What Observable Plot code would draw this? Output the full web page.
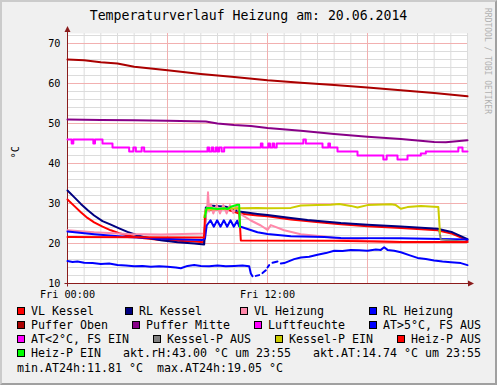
<!DOCTYPE html>
<html>
<head>
<meta charset="utf-8">
<script src="https://cdn.jsdelivr.net/npm/d3@7"></script>
<script src="https://cdn.jsdelivr.net/npm/@observablehq/plot@0.6"></script>
<style>
html, body { margin: 0; padding: 0; background: #f0f0f0; }
#card { position: relative; width: 497px; height: 385px; background: #f0f0f0; overflow: hidden;
  font-family: "DejaVu Sans Mono", monospace; color: #000; }
#bevel { position: absolute; left: 0; top: 0; width: 497px; height: 385px; box-sizing: border-box;
  border-style: solid; border-width: 2px; border-color: #cbcbcb #a0a0a0 #a0a0a0 #cbcbcb; pointer-events: none; }
#title { position: absolute; left: 0; top: 8.4px; width: 497px; text-align: center; font-size: 13.2px; line-height: 16px; white-space: pre; }
#mark { position: absolute; left: 482px; top: 8px; writing-mode: vertical-rl; font-size: 8px; line-height: 10px; color: #b0b0b0; white-space: pre; }
#chart { position: absolute; left: 0; top: 0; }
#legend { position: absolute; left: 17px; top: 304.2px; width: 464px; font-size: 11.63px; line-height: 14.1px; }
.row { display: flex; justify-content: space-between; height: 14.1px; }
.row.left { justify-content: flex-start; }
.item { white-space: pre; }
.box { display: inline-block; width: 8px; height: 8px; box-sizing: border-box; border: 1px solid #000; margin-right: 6px; vertical-align: baseline; }
</style>
</head>
<body>
<div id="card">
  <div id="chart"></div>
  <div id="title"></div>
  <div id="mark"></div>
  <div id="legend"></div>
  <div id="bevel"></div>
</div>
<script>
// ---------- texts ----------
const title = "Temperaturverlauf Heizung am: 20.06.2014";
const watermark = "RRDTOOL / TOBI OETIKER";
const unitLabel = "°C";
const xDomain = [0, 24];           // hours of the day
const yDomain = [10, 72.5];
const yTicks = [10, 20, 30, 40, 50, 60, 70];
const xTickValues = [0, 12];
const xTickLabels = ["Fri 00:00", "Fri 12:00"];

const legendLabels = ["VL Kessel", "RL Kessel", "VL Heizung", "RL Heizung",
  "Puffer Oben", "Puffer Mitte", "Luftfeuchte", "AT>5°C, FS AUS",
  "AT<2°C, FS EIN", "Kessel-P AUS", "Kessel-P EIN", "Heiz-P AUS", "Heiz-P EIN"];
const legendColors = ["#ff0000", "#000080", "#ff88aa", "#0000ff",
  "#aa0000", "#880088", "#ff00ff", "#0000ff",
  "#ff00ff", "#808080", "#cccc00", "#ff0000", "#00ff00"];
const infoTexts = ["akt.rH:43.00 °C um 23:55", "akt.AT:14.74 °C um 23:55",
  "min.AT24h:11.81 °C", "max.AT24h:19.05 °C"];

// ---------- series: [hour, °C] ----------
const vlKessel = [[0,31.0],[0.4,29.4],[0.8,27.8],[1.2,26.4],[1.6,25.3],[2.1,24.2],[2.6,23.3],[3.1,22.6],[3.6,22.0],
  [4.6,21.3],[5.6,20.9],[6.6,20.7],[7.6,20.5],[8.2,20.3],[8.3,28.4],[9.5,28.6],[10.3,27.5],[11.4,27.0],[12,26.8],
  [13.4,26.0],[15.4,25.2],[16.4,24.8],[18,24.3],[20,23.9],[22.2,23.3],[23.1,22.4],[24,20.8]];
const rlKessel = [[0,33.25],[0.4,31.6],[0.8,29.9],[1.2,28.4],[1.6,27.0],[2.1,25.6],[2.6,24.7],[3.1,23.8],[3.6,22.9],
  [4.1,22.2],[4.6,21.6],[5.6,20.8],[6.6,20.3],[7.6,20.0],[8.2,19.75],[8.3,29.0],[8.5,29.5],[9.5,29.2],[10.3,28.0],
  [11.4,27.4],[12,27.1],[13.4,26.4],[14.4,25.9],[15.4,25.5],[16.4,25.1],[18,24.7],[20,24.25],[22.2,23.7],[23.1,22.8],[24,21.1]];
const vlHeizung = [[0,23.3],[1.6,22.8],[3.6,22.4],[5.6,22.25],[8.2,22.5],[8.3,27.0],[8.38,28.5],[8.43,32.8],[8.5,28.0],
  [8.6,29.8],[8.75,27.5],[8.95,29.6],[9.15,27.5],[9.35,29.6],[9.55,27.5],[9.75,29.6],[9.95,27.6],[10.15,29.6],[10.3,27.6],
  [11,25.75],[11.6,24.5],[12.0,23.4],[12.2,24.6],[13,23.3],[14,22.3],[15.4,21.75],[16.4,21.2],[18,20.7],[20,20.4],[24,20.4]];
const rlHeizung = [[0,23.0],[1.6,22.3],[3.6,21.6],[5.6,21.2],[8.1,20.9],[8.25,21.2],[8.35,24.5],[8.58,25.8],[8.78,24.2],
  [8.98,25.8],[9.18,24.2],[9.38,25.8],[9.58,24.2],[9.78,25.8],[9.98,24.2],[10.18,25.7],[10.3,24.3],[11.4,22.8],[12,22.4],
  [13.4,21.8],[15.4,21.6],[16.4,21.4],[20,21.3],[24,21.0]];
const pufferOben = [[0,66.0],[1,65.8],[2,65.3],[3,65.0],[4,64.2],[6,63.3],[8,62.4],[10,61.6],[12,60.8],[14,60.2],
  [16,59.6],[18,59.0],[20,58.3],[22,57.6],[24,56.8]];
const pufferMitte = [[0,51.0],[2,50.9],[4,50.8],[6,50.7],[8.3,50.5],[9,50.0],[10,49.6],[11,49.4],[12,48.9],[14,48.2],
  [16,47.4],[18,46.7],[20,46.1],[22,45.4],[22.7,45.3],[24,45.8]];
const luftfeuchte = [[0,46],[0.25,45],[0.35,46],[1.55,45],[1.65,46],[2.1,45],[2.7,44],[3.7,43],[3.95,44],[4.1,43],
  [4.45,44],[4.6,43],[8.4,44],[8.5,43],[8.65,44],[8.75,43],[8.9,44],[9.0,43],[9.1,44],[9.25,43],[9.4,44],[11.6,45],
  [11.7,44],[12.05,45],[12.15,44],[12.3,45],[12.4,44],[12.55,45],[14.15,46],[14.3,45],[15.3,44],[15.65,45],[15.75,44],
  [16.2,43],[17.4,42],[18.95,41],[19.15,42],[19.8,41],[20.4,42],[21.2,42.5],[21.5,43],[23.45,44],[23.7,43],[24,43]];
const atHigh = [[0,15.6],[0.3,15.4],[0.6,15.5],[1,15.2],[1.5,15.1],[2,14.9],[2.5,15.0],[3,14.6],[3.5,14.5],[4,14.3],
  [4.5,14.4],[5,14.2],[5.5,14.3],[6,14.2],[6.5,14.0],[6.8,13.8],[7.2,14.4],[7.6,14.6],[8,14.4],[8.5,14.3],[9,14.5],
  [9.5,14.3],[10,14.4],[10.5,14.5],[10.9,14.3],[11.0,12.5],[11.1,11.8],[11.2,NaN],[11.3,11.9],[11.5,12.1],[11.6,NaN],
  [11.7,12.6],[11.9,13.3],[11.95,NaN],[12.0,14.0],[12.1,14.6],[12.2,NaN],[12.3,15.2],[12.6,15.5],[12.7,NaN],[12.8,15.0],
  [13.0,15.1],[13.3,15.6],[13.6,16.1],[14,16.5],[14.5,16.7],[15,17.2],[15.5,17.6],[16,18.2],[16.5,18.1],[17,18.4],
  [17.5,18.3],[18,18.2],[18.5,18.5],[18.8,18.4],[19.0,19.05],[19.2,18.4],[19.6,18.2],[20,17.8],[20.5,17.1],[21,16.4],
  [21.5,16.1],[22,15.75],[22.5,15.5],[23,15.3],[23.6,15.1],[24,14.6]];
const atLow = [];
const kesselPAus = [[22.3,23.3],[22.4,21.0],[24,20.4]];
const kesselPEin = [[8.2,26.5],[8.3,28.5],[9,28.6],[10.3,28.8],[11.4,28.9],[12,28.8],[13.4,28.9],[14,29.5],[15,29.6],
  [15.8,29.7],[16.3,29.9],[17,29.4],[17.4,29.0],[18,29.6],[19.4,29.8],[19.7,29.6],[20,28.7],[20.4,29.1],[21.2,29.4],
  [22.25,29.1],[22.35,22.5]];
const heizPAus = [[0,21.6],[8.2,21.5],[8.25,27.0],[8.3,NaN],[10.3,28.0],[10.4,20.75],[16,20.7],[20,20.4],[24,20.4]];
const heizPEin = [[8.25,26.6],[8.35,28.9],[8.6,28.9],[9.0,28.6],[9.4,28.8],[9.6,28.6],[9.8,29.2],[10.2,29.7],[10.3,29.7],[10.35,24.1]];

const seriesData = [vlKessel, rlKessel, vlHeizung, rlHeizung, pufferOben, pufferMitte, luftfeuchte,
  atHigh, atLow, kesselPAus, kesselPEin, heizPAus, heizPEin];
const stepSeries = [luftfeuchte];

// ---------- grid ----------
const minorGrid = "#dcdcdc", majorGrid = "#f2b0b0", axisColor = "#8b1c1c";
const majorX = d3.range(6, 24, 6);
const minorX = d3.range(1, 25).filter(h => h % 6 !== 0 || h === 24);
const majorY = yTicks.filter(v => v > yDomain[0]);
const minorY = d3.range(12, yDomain[1], 2).filter(v => v % 10 !== 0);

function axesMark(index, scales) {
  const {x, y} = scales;
  const xl = Math.round(x(xDomain[0])) + 0.5, xr = x(xDomain[1]);
  const yb = Math.round(y(yDomain[0])) + 0.5, yt = y(yDomain[1]);
  const g = d3.create("svg:g");
  g.append("line").attr("x1", xl).attr("x2", xl).attr("y1", yb + 3).attr("y2", yt - 2).attr("stroke", axisColor);
  g.append("line").attr("x1", xl - 3).attr("x2", xr + 2).attr("y1", yb).attr("y2", yb).attr("stroke", axisColor);
  g.append("path").attr("fill", axisColor).attr("d", `M${xl},${yt - 7}L${xl - 3},${yt - 1}L${xl + 3},${yt - 1}Z`);
  g.append("path").attr("fill", axisColor).attr("d", `M${xr + 7},${yb}L${xr + 1},${yb - 3}L${xr + 1},${yb + 3}Z`);
  return g.node();
}

const chart = Plot.plot({
  width: 497, height: 300,
  marginLeft: 67, marginRight: 30, marginTop: 33, marginBottom: 17,
  style: {background: "transparent", fontFamily: "DejaVu Sans Mono", fontSize: "10.2px", color: "#000", overflow: "visible"},
  x: {domain: xDomain, ticks: xTickValues, tickFormat: d => xTickLabels[xTickValues.indexOf(d)], tickSize: 0, tickPadding: 7, label: null},
  y: {domain: yDomain, ticks: yTicks, tickSize: 0, tickPadding: 7, label: null},
  marks: [
    Plot.frame({fill: "white", stroke: "none"}),
    Plot.ruleX(minorX, {stroke: minorGrid}),
    Plot.ruleY(minorY, {stroke: minorGrid}),
    Plot.ruleX(majorX, {stroke: majorGrid}),
    Plot.ruleY(majorY, {stroke: majorGrid}),
    axesMark,
    ...seriesData.map((data, i) => Plot.line(data, {
      x: d => d[0], y: d => d[1], stroke: legendColors[i], strokeWidth: 2,
      curve: stepSeries.includes(data) ? "step-after" : "linear"
    })),
    Plot.text([unitLabel], {text: d => d, frameAnchor: "left", rotate: -90, dx: -52, fontSize: 10.2})
  ]
});
document.getElementById("chart").appendChild(chart);
document.getElementById("title").textContent = title;
document.getElementById("mark").textContent = watermark;

// ---------- legend ----------
const legend = document.getElementById("legend");
function legendItem(i, pad) {
  const d = document.createElement("div");
  d.className = "item";
  const b = document.createElement("span");
  b.className = "box";
  b.style.background = legendColors[i];
  d.appendChild(b);
  d.appendChild(document.createTextNode(legendLabels[i] + " ".repeat(pad || 0)));
  return d;
}
function textItem(t) {
  const d = document.createElement("div");
  d.className = "item";
  d.textContent = t;
  return d;
}
const firstRowPad = [1, 2, 3, 4];
const rows = [
  [0, 1, 2, 3].map((i, k) => legendItem(i, firstRowPad[k])),
  [4, 5, 6, 7].map(i => legendItem(i)),
  [8, 9, 10, 11].map(i => legendItem(i)),
  [legendItem(12), textItem(infoTexts[0]), textItem(infoTexts[1])],
  [textItem(infoTexts[2] + "  " + infoTexts[3])]
];
rows.forEach((items, r) => {
  const row = document.createElement("div");
  row.className = "row" + (r === rows.length - 1 ? " left" : "");
  items.forEach(it => row.appendChild(it));
  legend.appendChild(row);
});
</script>
</body>
</html>
